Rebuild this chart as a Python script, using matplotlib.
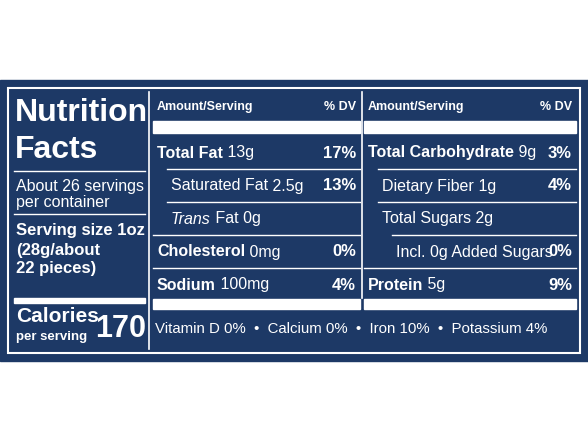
import matplotlib.pyplot as plt
from matplotlib.patches import Rectangle

NAVY = "#1d3966"
WHITE = "white"

# data
mid_rows = [("Total Fat", " 13g", "17%", True, 0),
            ("Saturated Fat", " 2.5g", "13%", False, 1),
            ("Trans", " Fat 0g", "", False, 1),
            ("Cholesterol", " 0mg", "0%", True, 0),
            ("Sodium", " 100mg", "4%", True, 0)]
right_rows = [("Total Carbohydrate", " 9g", "3%", True, 0),
              ("Dietary Fiber", " 1g", "4%", False, 1),
              ("Total Sugars", " 2g", "", False, 1),
              ("Incl. 0g Added Sugars", "", "0%", False, 2),
              ("Protein", " 5g", "9%", True, 0)]
vitamins = ["Vitamin D 0%", "Calcium 0%", "Iron 10%", "Potassium 4%"]
calories = "170"

fig = plt.figure(figsize=(5.88, 4.41), dpi=100)
ax = fig.add_axes([0, 0, 1, 1])
ax.set_xlim(0, 588)
ax.set_ylim(441, 0)
ax.axis("off")
plt.rcParams["font.family"] = ["Liberation Sans", "DejaVu Sans"]

ax.add_patch(Rectangle((0, 80), 588, 281, color=NAVY))
ax.add_patch(Rectangle((8, 88), 572, 265, fill=False, ec=WHITE, lw=1.5))

# left column
ax.text(15, 113, "Nutrition", color=WHITE, fontsize=23, fontweight="bold", va="center")
ax.text(15, 150, "Facts", color=WHITE, fontsize=23, fontweight="bold", va="center")
ax.plot([14, 145], [171, 171], color=WHITE, lw=1)
ax.text(16, 186, "About 26 servings", color=WHITE, fontsize=11.5, va="center")
ax.text(16, 203, "per container", color=WHITE, fontsize=11.5, va="center")
ax.plot([14, 145], [214, 214], color=WHITE, lw=1)
for y, s in zip([230, 250, 269], ["Serving size 1oz", "(28g/about", "22 pieces)"]):
    ax.text(16, y, s, color=WHITE, fontsize=12, fontweight="bold", va="center")
ax.add_patch(Rectangle((14, 298), 131, 5, color=WHITE))
ax.text(16, 317, "Calories", color=WHITE, fontsize=15, fontweight="bold", va="center")
ax.text(16, 337, "per serving", color=WHITE, fontsize=9.5, fontweight="bold", va="center")
ax.text(146, 329, calories, color=WHITE, fontsize=22, fontweight="bold", va="center", ha="right")
ax.plot([149, 149], [92, 349], color=WHITE, lw=1.2)


def column(x0, x1, rows):
    ax.text(x0 + 4, 107, "Amount/Serving", color=WHITE, fontsize=9, fontweight="bold", va="center")
    ax.text(x1 - 4, 107, "% DV", color=WHITE, fontsize=9, fontweight="bold", va="center", ha="right")
    ax.add_patch(Rectangle((x0, 121), x1 - x0, 12, color=WHITE))
    for i, (name, amt, dv, bold, ind) in enumerate(rows):
        y = 153 + 33 * i
        xs = x0 + 4 + 14 * ind
        if name == "Trans":
            t = ax.text(xs, y, name, color=WHITE, fontsize=11.5, style="italic", va="center")
        else:
            t = ax.text(xs, y, name, color=WHITE, fontsize=11.5, fontweight="bold" if bold else "normal", va="center")
        fig.canvas.draw()
        bb = t.get_window_extent().transformed(ax.transData.inverted())
        ax.text(bb.x1, y, amt, color=WHITE, fontsize=11.5, va="center")
        if dv:
            ax.text(x1 - 4, y, dv, color=WHITE, fontsize=12, fontweight="bold", va="center", ha="right")
        if i < len(rows) - 1:
            nxt = rows[i + 1][4]
            lx = x0 + (14 * nxt if nxt else 0)
            ax.plot([lx, x1], [y + 16, y + 16], color=WHITE, lw=1)
    ax.add_patch(Rectangle((x0, 299), x1 - x0, 10, color=WHITE))


column(153, 360, mid_rows)
column(364, 576, right_rows)
ax.plot([362, 362], [92, 298], color=WHITE, lw=1.2)

vit = "  •  ".join(vitamins)
ax.text(155, 329, vit, color=WHITE, fontsize=10.8, va="center")

fig.savefig("out.png", dpi=100)
